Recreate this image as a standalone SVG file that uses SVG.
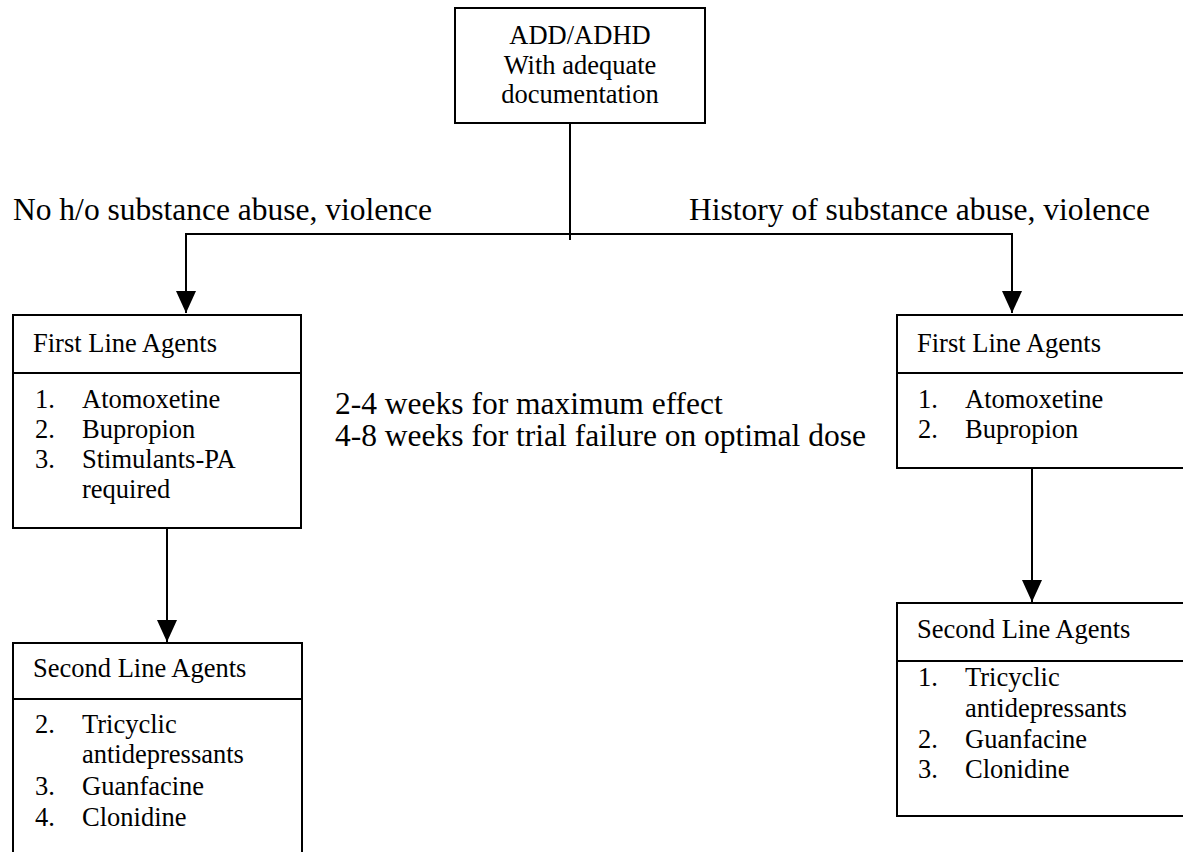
<svg xmlns="http://www.w3.org/2000/svg" width="1183" height="852" viewBox="0 0 1183 852">
<style>
.box{fill:#fff;stroke:#000;stroke-width:2}
.ln{stroke:#000;stroke-width:2;fill:none}
text{font-family:"Liberation Serif","Times New Roman",serif;fill:#000}
.t{font-size:26.5px}
.lbl{font-size:31.5px}
</style>
<defs>
<marker id="ah" markerUnits="userSpaceOnUse" markerWidth="22" markerHeight="20" refX="22" refY="10" orient="auto">
<path d="M0,0 L22,10 L0,20 Z" fill="#000"/>
</marker>
</defs>
<rect width="1183" height="852" fill="#fff"/>
<g id="connectors">
<line class="ln" x1="570" y1="123" x2="570" y2="240"/>
<polyline class="ln" points="186,250 186,234 1012,234 1012,250"/>
<line class="ln" x1="186" y1="240" x2="186" y2="313" marker-end="url(#ah)"/>
<line class="ln" x1="1012" y1="240" x2="1012" y2="313" marker-end="url(#ah)"/>
<line class="ln" x1="167" y1="528" x2="167" y2="642" marker-end="url(#ah)"/>
<line class="ln" x1="1032" y1="468" x2="1032" y2="602" marker-end="url(#ah)"/>
</g>
<g id="root">
<rect class="box" x="455" y="8" width="250" height="115"/>
<text class="t" x="580" y="44" text-anchor="middle">ADD/ADHD</text>
<text class="t" x="580" y="73.5" text-anchor="middle">With adequate</text>
<text class="t" x="580" y="103" text-anchor="middle">documentation</text>
</g>
<g id="label-left">
<text class="lbl" x="13" y="220">No h/o substance abuse, violence</text>
</g>
<g id="label-right">
<text class="lbl" x="1150" y="220" text-anchor="end">History of substance abuse, violence</text>
</g>
<g id="note">
<text class="lbl" x="335" y="414">2-4 weeks for maximum effect</text>
<text class="lbl" x="335" y="446">4-8 weeks for trial failure on optimal dose</text>
</g>
<g id="first-left">
<rect class="box" x="13" y="315" width="288" height="213"/>
<line class="ln" x1="13" y1="373" x2="301" y2="373"/>
<text class="t" x="33" y="352">First Line Agents</text>
<text class="t" x="35" y="408">1.</text><text class="t" x="82" y="408">Atomoxetine</text>
<text class="t" x="35" y="438">2.</text><text class="t" x="82" y="438">Bupropion</text>
<text class="t" x="35" y="468">3.</text><text class="t" x="82" y="468">Stimulants-PA</text>
<text class="t" x="82" y="498">required</text>
</g>
<g id="second-left">
<path class="ln" d="M13,860 L13,643 L302,643 L302,860"/>
<line class="ln" x1="13" y1="699" x2="302" y2="699"/>
<text class="t" x="33" y="677">Second Line Agents</text>
<text class="t" x="35" y="733">2.</text><text class="t" x="82" y="733">Tricyclic</text>
<text class="t" x="82" y="763">antidepressants</text>
<text class="t" x="35" y="795">3.</text><text class="t" x="82" y="795">Guanfacine</text>
<text class="t" x="35" y="826">4.</text><text class="t" x="82" y="826">Clonidine</text>
</g>
<g id="first-right">
<path class="ln" d="M1190,315 L897,315 L897,468 L1190,468"/>
<line class="ln" x1="897" y1="373" x2="1190" y2="373"/>
<text class="t" x="917" y="352">First Line Agents</text>
<text class="t" x="918" y="408">1.</text><text class="t" x="965" y="408">Atomoxetine</text>
<text class="t" x="918" y="438">2.</text><text class="t" x="965" y="438">Bupropion</text>
</g>
<g id="second-right">
<path class="ln" d="M1190,603 L897,603 L897,816 L1190,816"/>
<line class="ln" x1="897" y1="661" x2="1190" y2="661"/>
<text class="t" x="917" y="638">Second Line Agents</text>
<text class="t" x="918" y="686">1.</text><text class="t" x="965" y="686">Tricyclic</text>
<text class="t" x="965" y="717">antidepressants</text>
<text class="t" x="918" y="748">2.</text><text class="t" x="965" y="748">Guanfacine</text>
<text class="t" x="918" y="778">3.</text><text class="t" x="965" y="778">Clonidine</text>
</g>
</svg>
